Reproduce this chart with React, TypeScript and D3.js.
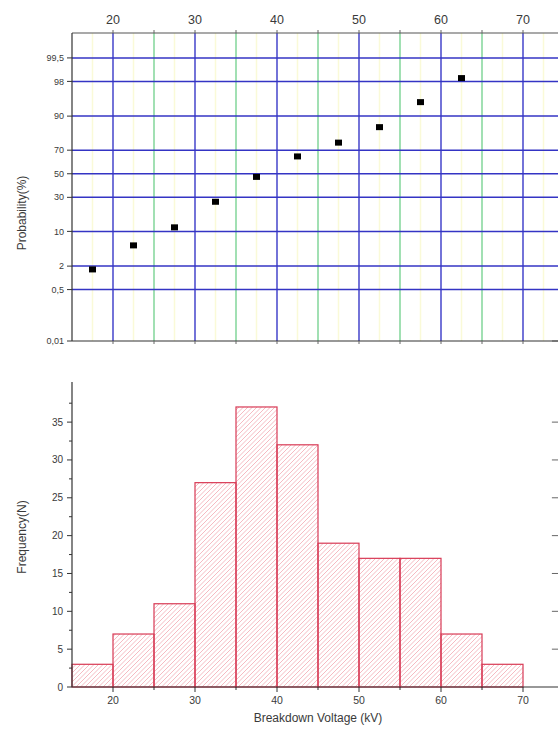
import React from 'react';
import * as d3 from 'd3';

// ---- data ----
const binStarts = [15, 20, 25, 30, 35, 40, 45, 50, 55, 60, 65];
const binWidth = 5;
const counts = [3, 7, 11, 27, 37, 32, 19, 17, 17, 7, 3];
const probVoltages = [17.5, 22.5, 27.5, 32.5, 37.5, 42.5, 47.5, 52.5, 57.5, 62.5];
const probValues = [1.67, 5.56, 11.67, 26.67, 47.22, 65.0, 75.56, 85.0, 94.44, 98.33];
const probTicks = [0.01, 0.5, 2, 10, 30, 50, 70, 90, 98, 99.5];
const probTickLabels = ['0,01', '0,5', '2', '10', '30', '50', '70', '90', '98', '99,5'];
const xTicks = [20, 30, 40, 50, 60, 70];
const xMidTicks = [25, 35, 45, 55, 65];
const freqTicks = [0, 5, 10, 15, 20, 25, 30, 35];
const freqMinorTicks = [2.5, 7.5, 12.5, 17.5, 22.5, 27.5, 32.5, 37.5];

// inverse normal CDF (Acklam)
function probit(p: number): number {
  const a = [-3.969683028665376e1, 2.209460984245205e2, -2.759285104469687e2, 1.38357751867269e2, -3.066479806614716e1, 2.506628277459239];
  const b = [-5.447609879822406e1, 1.615858368580409e2, -1.556989798598866e2, 6.680131188771972e1, -1.328068155288572e1];
  const c = [-7.784894002430293e-3, -3.223964580411365e-1, -2.400758277161838, -2.549732539343734, 4.374664141464968, 2.938163982698783];
  const d = [7.784695709041462e-3, 3.224671290700398e-1, 2.445134137142996, 3.754408661907416];
  const pl = 0.02425;
  if (p < pl) {
    const q = Math.sqrt(-2 * Math.log(p));
    return (((((c[0] * q + c[1]) * q + c[2]) * q + c[3]) * q + c[4]) * q + c[5]) / ((((d[0] * q + d[1]) * q + d[2]) * q + d[3]) * q + 1);
  } else if (p <= 1 - pl) {
    const q = p - 0.5;
    const r = q * q;
    return ((((((a[0] * r + a[1]) * r + a[2]) * r + a[3]) * r + a[4]) * r + a[5]) * q) / (((((b[0] * r + b[1]) * r + b[2]) * r + b[3]) * r + b[4]) * r + 1);
  } else {
    const q = Math.sqrt(-2 * Math.log(1 - p));
    return -(((((c[0] * q + c[1]) * q + c[2]) * q + c[3]) * q + c[4]) * q + c[5]) / ((((d[0] * q + d[1]) * q + d[2]) * q + d[3]) * q + 1);
  }
}

const W = 558;
const H = 733;
const L = 72;

export default function App() {
  const x = d3.scaleLinear().domain([15, 74.5]).range([L, L + 59.5 * 8.2]);
  const yTopPx = 33;
  const yBotPx = 341;
  const yP = d3.scaleLinear().domain([probit(0.0001), 3.13]).range([yBotPx, yTopPx]);
  const yF = d3.scaleLinear().domain([0, 40.3]).range([687, 382]);
  const font = 'Liberation Sans, Arial, sans-serif';
  const txt = '#3a3a3a';
  const rightX = x(74.5);

  const faint = d3.range(17.5, 75, 2.5).filter((v) => v % 5 !== 0);
  const hatchStarts = d3.range(L - 320, W + 10, 4.5);

  return (
    <svg width={W} height={H} style={{ position: 'absolute', left: 0, top: 0, background: '#fff' }} fontFamily={font}>
      <defs>
        <clipPath id="barsClip">
          {binStarts.map((s, i) => (
            <rect key={'c' + i} x={x(s)} y={yF(counts[i])} width={x(s + binWidth) - x(s)} height={yF(0) - yF(counts[i])} />
          ))}
        </clipPath>
      </defs>

      {/* ---------- top probability chart ---------- */}
      <g>
        {faint.map((v) => (
          <line key={'f' + v} x1={x(v)} x2={x(v)} y1={yTopPx} y2={yBotPx} stroke="#fafad8" strokeWidth={1.5} />
        ))}
        {xMidTicks.map((v) => (
          <line key={'g' + v} x1={x(v)} x2={x(v)} y1={yTopPx} y2={yBotPx} stroke="#6fd08a" strokeWidth={1.3} />
        ))}
        {xTicks.map((v) => (
          <line key={'b' + v} x1={x(v)} x2={x(v)} y1={yTopPx} y2={yBotPx} stroke="#3838c8" strokeWidth={1.4} />
        ))}
        {probTicks.slice(1).map((p) => (
          <line key={'h' + p} x1={L} x2={W} y1={yP(probit(p / 100))} y2={yP(probit(p / 100))} stroke="#3434c4" strokeWidth={1.5} />
        ))}
        {/* frame */}
        <line x1={L} x2={W} y1={yTopPx} y2={yTopPx} stroke="#555" strokeWidth={1.2} />
        <line x1={L} x2={W} y1={yBotPx} y2={yBotPx} stroke="#333" strokeWidth={1.2} />
        <line x1={L} x2={L} y1={yTopPx} y2={yBotPx} stroke="#333" strokeWidth={1.2} />
        {/* left ticks and labels */}
        {probTicks.map((p, i) => (
          <g key={'pt' + p} transform={`translate(${L},${yP(probit(p / 100))})`}>
            <line x1={-5} x2={0} stroke="#333" strokeWidth={1} />
            <text x={-8} dy="0.35em" textAnchor="end" fontSize={9} fill={txt}>{probTickLabels[i]}</text>
          </g>
        ))}
        {/* top labels */}
        {xTicks.map((v) => (
          <text key={'tx' + v} x={x(v)} y={24} textAnchor="middle" fontSize={12.5} fill={txt}>{v}</text>
        ))}
        {[...xTicks, ...xMidTicks].map((v) => (
          <line key={'tt' + v} x1={x(v)} x2={x(v)} y1={yTopPx} y2={yTopPx - 3} stroke="#666" strokeWidth={1} />
        ))}
        {[...xTicks, ...xMidTicks].map((v) => (
          <line key={'tb' + v} x1={x(v)} x2={x(v)} y1={yBotPx} y2={yBotPx + 3} stroke="#666" strokeWidth={1} />
        ))}
        <line x1={W - 6} x2={W} y1={yBotPx} y2={yBotPx} stroke="#555" strokeWidth={1} />
        {/* points */}
        {probVoltages.map((v, i) => (
          <rect key={'pp' + i} x={x(v) - 3.5} y={yP(probit(probValues[i] / 100)) - 3} width={7} height={6} fill="#000" />
        ))}
        <text transform={`translate(26,${(yTopPx + yBotPx) / 2 + 26}) rotate(-90)`} textAnchor="middle" fontSize={12} fill={txt}>Probability(%)</text>
      </g>

      {/* ---------- bottom histogram ---------- */}
      <g>
        <g clipPath="url(#barsClip)">
          {hatchStarts.map((k, i) => (
            <line key={'hl' + i} x1={k} y1={yF(0)} x2={k + 320} y2={yF(0) - 320} stroke="#f2a9b2" strokeWidth={0.8} />
          ))}
        </g>
        {binStarts.map((s, i) => (
          <rect key={'bar' + i} x={x(s)} y={yF(counts[i])} width={x(s + binWidth) - x(s)} height={yF(0) - yF(counts[i])}
            fill="none" stroke="#d83a55" strokeWidth={1.2} />
        ))}
        {/* axes */}
        <line x1={L} x2={L} y1={yF(40.3)} y2={yF(0)} stroke="#333" strokeWidth={1.2} />
        <line x1={L} x2={W} y1={yF(0)} y2={yF(0)} stroke="#333" strokeWidth={1.2} />
        {freqTicks.map((v) => (
          <g key={'fy' + v} transform={`translate(${L},${yF(v)})`}>
            <line x1={-5} x2={0} stroke="#333" strokeWidth={1} />
            <text x={-9} dy="0.35em" textAnchor="end" fontSize={10} fill={txt}>{v}</text>
          </g>
        ))}
        {freqMinorTicks.map((v) => (
          <line key={'fm' + v} x1={L - 3} x2={L} y1={yF(v)} y2={yF(v)} stroke="#333" strokeWidth={1} />
        ))}
        {/* right-side mirrored ticks */}
        {freqTicks.slice(1).map((v) => (
          <line key={'fr' + v} x1={rightX - 8} x2={rightX} y1={yF(v)} y2={yF(v)} stroke="#666" strokeWidth={1} />
        ))}
        {xTicks.map((v) => (
          <g key={'bx' + v} transform={`translate(${x(v)},${yF(0)})`}>
            <line y1={0} y2={5} stroke="#333" strokeWidth={1} />
            <text y={17} textAnchor="middle" fontSize={10.5} fill={txt}>{v}</text>
          </g>
        ))}
        {xMidTicks.map((v) => (
          <line key={'bm' + v} x1={x(v)} x2={x(v)} y1={yF(0)} y2={yF(0) + 3} stroke="#333" strokeWidth={1} />
        ))}
        <text x={318} y={722} textAnchor="middle" fontSize={12} fill={txt}>Breakdown Voltage (kV)</text>
        <text transform={`translate(26,${537}) rotate(-90)`} textAnchor="middle" fontSize={12} fill={txt}>Frequency(N)</text>
      </g>
    </svg>
  );
}
